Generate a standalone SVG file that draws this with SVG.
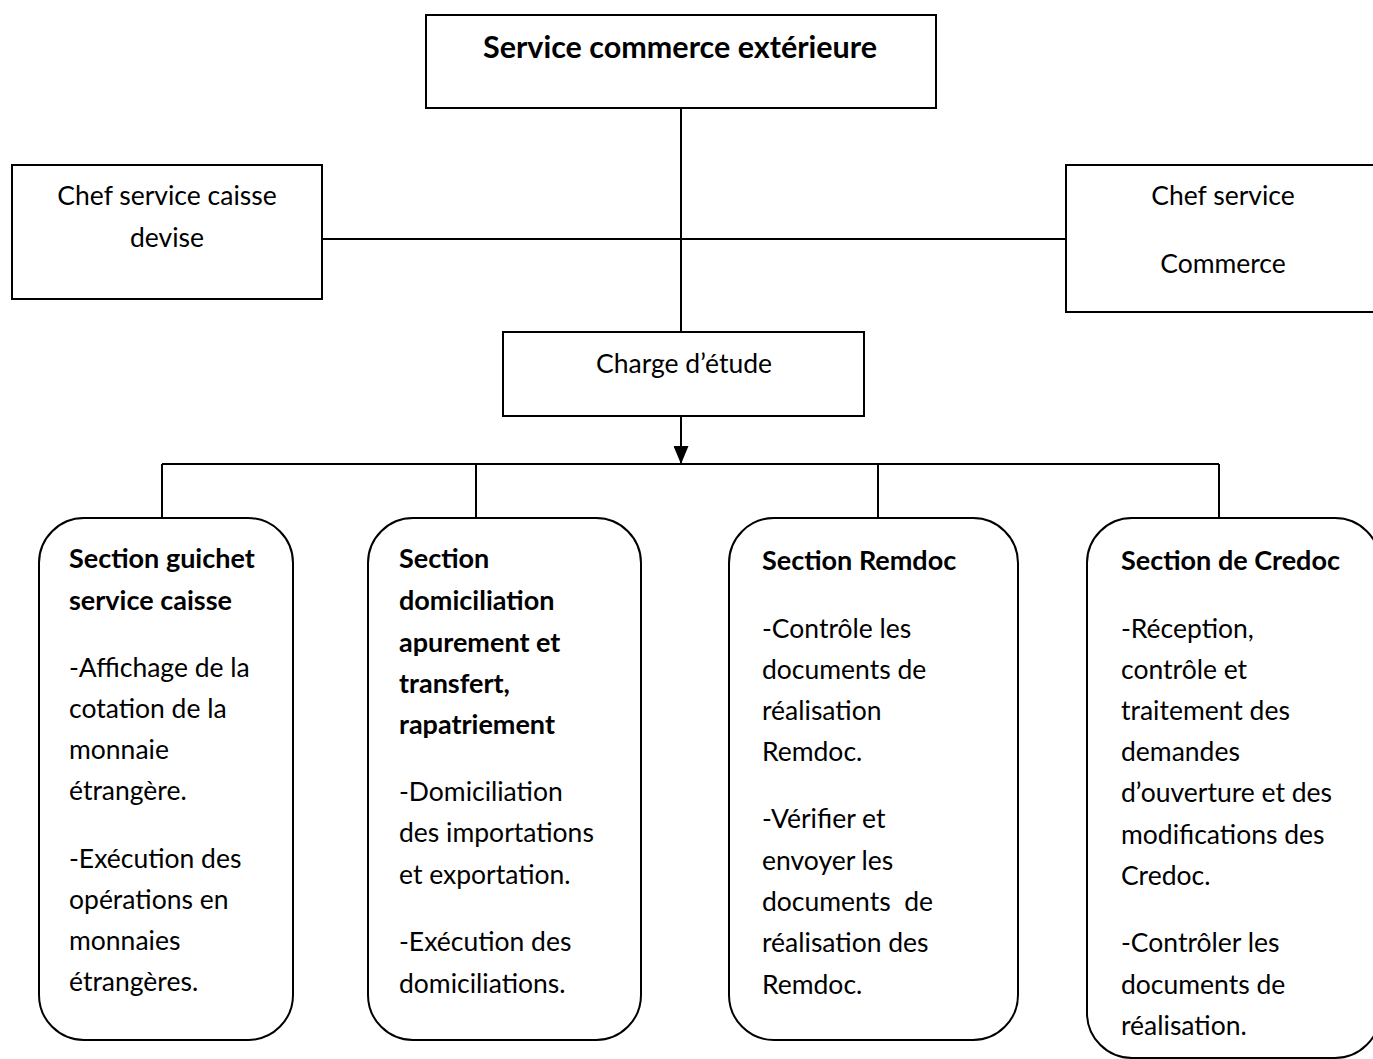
<svg xmlns="http://www.w3.org/2000/svg" width="1373" height="1059" viewBox="0 0 1373 1059">
  <style>
    .box { fill: #ffffff; stroke: #000000; stroke-width: 2; }
    .line { fill: none; stroke: #000000; stroke-width: 2; }
    text { font-family: Lato, "Open Sans", "Liberation Sans", sans-serif; font-size: 26.5px; fill: #000000; }
    .b { font-weight: bold; font-size: 27px; }
    .c { text-anchor: middle; }
  </style>
  <defs>
    <marker id="arrow" viewBox="0 0 18 15" refX="18" refY="7.5" markerWidth="18" markerHeight="15" markerUnits="userSpaceOnUse" orient="auto">
      <path d="M0,0 L18,7.5 L0,15 z" fill="#000000"/>
    </marker>
  </defs>
  <rect width="1373" height="1059" fill="#ffffff"/>

  <!-- connectors -->
  <g id="connectors">
    <line class="line" x1="681" y1="108" x2="681" y2="332"/>
    <line class="line" x1="322" y1="239" x2="1066" y2="239"/>
    <line class="line" x1="681" y1="416" x2="681" y2="464" marker-end="url(#arrow)"/>
    <line class="line" x1="162" y1="464" x2="1219" y2="464"/>
    <line class="line" x1="162" y1="464" x2="162" y2="518"/>
    <line class="line" x1="476" y1="464" x2="476" y2="518"/>
    <line class="line" x1="878" y1="464" x2="878" y2="518"/>
    <line class="line" x1="1219" y1="464" x2="1219" y2="518"/>
  </g>

  <g id="service-commerce">
    <rect class="box" x="426" y="15" width="510" height="93"/>
    <text class="b c" x="680" y="58" style="font-size:30.5px">Service commerce extérieure</text>
  </g>

  <g id="chef-caisse">
    <rect class="box" x="12" y="165" width="310" height="134"/>
    <text class="c" x="167" y="205">Chef service caisse</text>
    <text class="c" x="167" y="247">devise</text>
  </g>

  <g id="chef-commerce">
    <rect class="box" x="1066" y="165" width="320" height="147"/>
    <text class="c" x="1223" y="205">Chef service</text>
    <text class="c" x="1223" y="273">Commerce</text>
  </g>

  <g id="charge-etude">
    <rect class="box" x="503" y="332" width="361" height="84"/>
    <text class="c" x="684" y="373">Charge d’étude</text>
  </g>

  <g id="section-guichet">
    <rect class="box" x="39" y="518" width="254" height="522" rx="45" ry="45"/>
    <text class="b" x="69" y="568">Section guichet</text>
    <text class="b" x="69" y="610">service caisse</text>
    <text x="69" y="677">-Affichage de la</text>
    <text x="69" y="718">cotation de la</text>
    <text x="69" y="759">monnaie</text>
    <text x="69" y="800">étrangère.</text>
    <text x="69" y="868">-Exécution des</text>
    <text x="69" y="909">opérations en</text>
    <text x="69" y="950">monnaies</text>
    <text x="69" y="991">étrangères.</text>
  </g>

  <g id="section-domiciliation">
    <rect class="box" x="368" y="518" width="273" height="522" rx="45" ry="45"/>
    <text class="b" x="399" y="568">Section</text>
    <text class="b" x="399" y="610">domiciliation</text>
    <text class="b" x="399" y="652">apurement et</text>
    <text class="b" x="399" y="693">transfert,</text>
    <text class="b" x="399" y="734">rapatriement</text>
    <text x="399" y="801">-Domiciliation</text>
    <text x="399" y="842">des importations</text>
    <text x="399" y="884">et exportation.</text>
    <text x="399" y="951">-Exécution des</text>
    <text x="399" y="993">domiciliations.</text>
  </g>

  <g id="section-remdoc">
    <rect class="box" x="729" y="518" width="289" height="522" rx="45" ry="45"/>
    <text class="b" x="762" y="570">Section Remdoc</text>
    <text x="762" y="638">-Contrôle les</text>
    <text x="762" y="679">documents de</text>
    <text x="762" y="720">réalisation</text>
    <text x="762" y="761">Remdoc.</text>
    <text x="762" y="828">-Vérifier et</text>
    <text x="762" y="870">envoyer les</text>
    <text x="762" y="911" xml:space="preserve">documents  de</text>
    <text x="762" y="952">réalisation des</text>
    <text x="762" y="994">Remdoc.</text>
  </g>

  <g id="section-credoc">
    <rect class="box" x="1087" y="518" width="293" height="540" rx="45" ry="45"/>
    <text class="b" x="1121" y="570">Section de Credoc</text>
    <text x="1121" y="638">-Réception,</text>
    <text x="1121" y="679">contrôle et</text>
    <text x="1121" y="720">traitement des</text>
    <text x="1121" y="761">demandes</text>
    <text x="1121" y="802">d’ouverture et des</text>
    <text x="1121" y="844">modifications des</text>
    <text x="1121" y="885">Credoc.</text>
    <text x="1121" y="952">-Contrôler les</text>
    <text x="1121" y="994">documents de</text>
    <text x="1121" y="1035">réalisation.</text>
  </g>
</svg>
